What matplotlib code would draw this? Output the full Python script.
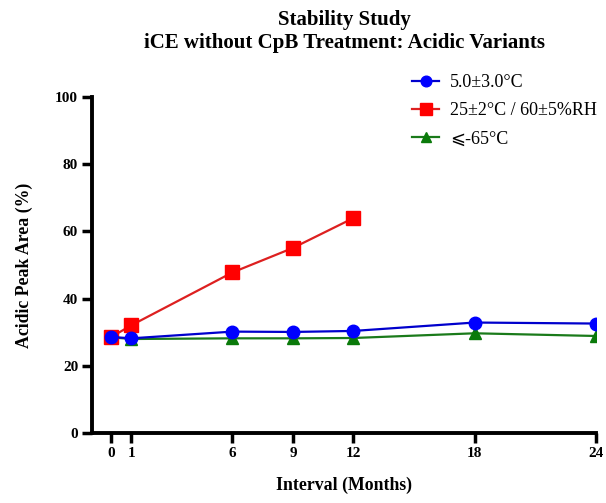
import matplotlib
matplotlib.use("Agg")
import matplotlib.pyplot as plt

months = [0, 1, 6, 9, 12, 18, 24]
months_rt = [0, 1, 6, 9, 12]
cold = [28.6, 28.2, 30.2, 30.1, 30.4, 32.9, 32.6]
room = [28.6, 32.1, 47.8, 55.1, 64.0]
frozen = [28.5, 28.0, 28.2, 28.2, 28.3, 29.7, 28.9]
labels = ["5.0±3.0°C", "25±2°C / 60±5%RH", "⩽-65°C"]
yticks = [0, 20, 40, 60, 80, 100]

serif = ['Liberation Serif', 'DejaVu Serif', 'DejaVu Sans']
plt.rcParams['font.family'] = serif

fig = plt.figure(figsize=(6.06, 5.03), dpi=100)
ax = fig.add_axes([0.152, 0.139, 0.831, 0.668])

ax.plot(months, cold, color='#0000cc', marker='o', markersize=9,
        markerfacecolor='#0000ff', markeredgecolor='#0000ff', lw=1.6, label=labels[0], zorder=3)
ax.plot(months_rt, room, color='#dd2020', marker='s', markersize=10,
        markerfacecolor='#ff0000', markeredgecolor='#ff0000', lw=1.6, label=labels[1], zorder=2)
ax.plot(months, frozen, color='#1a7a1a', marker='^', markersize=9,
        markerfacecolor='#0a7a0a', markeredgecolor='#0a7a0a', lw=1.6, label=labels[2], zorder=1)

ax.set_xlim(-0.95, 24)
ax.set_ylim(0, 100)
ax.set_xticks(months)
ax.set_yticks(yticks)
for s in ['top', 'right']:
    ax.spines[s].set_visible(False)
for s in ['left', 'bottom']:
    ax.spines[s].set_linewidth(2.8)
ax.tick_params(direction='out', length=7, width=2.5, labelsize=11, pad=3)
for t in ax.get_xticklabels() + ax.get_yticklabels():
    t.set_fontweight('bold')

ax.set_ylabel('Acidic Peak Area (%)', fontsize=12.8, fontweight='bold', labelpad=16)
ax.set_xlabel('Interval (Months)', fontsize=12.8, fontweight='bold', labelpad=12)
fig.text(0.568, 1 - 20 / 503, 'Stability Study', fontsize=15, fontweight='bold',
         ha='center', va='center')
fig.text(0.568, 1 - 43 / 503, 'iCE without CpB Treatment: Acidic Variants', fontsize=15,
         fontweight='bold', ha='center', va='center')

leg = fig.legend(loc='upper left', bbox_to_anchor=(396 / 606, 1 - 58 / 503), frameon=False,
                 fontsize=13, handlelength=1.5, labelspacing=0.62, handletextpad=0.6,
                 markerscale=0.85)

fig.savefig('out.png', dpi=100)
